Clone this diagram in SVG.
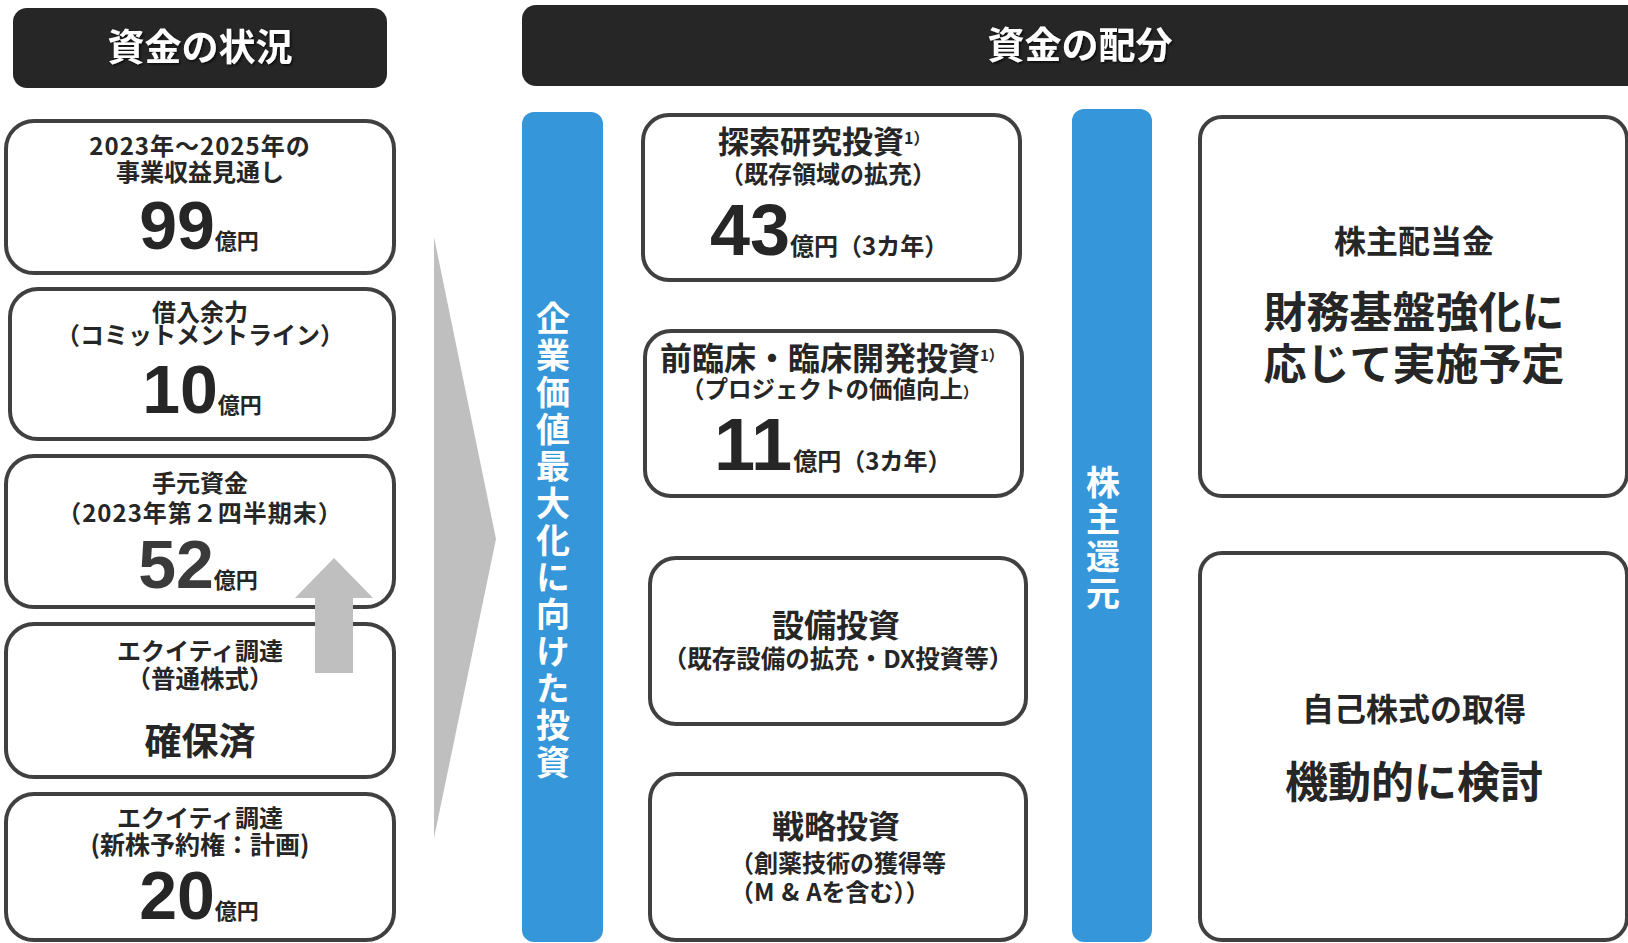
<svg xmlns="http://www.w3.org/2000/svg" width="1628" height="943" viewBox="0 0 1628 943">
<style>
.box{fill:#fff;stroke:#404040;stroke-width:4}
.hdr{fill:#262626}
.blue{fill:#3597d9}
.gray{fill:#bfbfbf}
.t{font-family:"Noto Sans CJK JP","Noto Sans",sans-serif;font-weight:700;fill:#262626;text-anchor:middle}
.s{text-anchor:start}
.num{font-family:"Liberation Sans",Arial,sans-serif;font-weight:700}
.w{fill:#fff}
.v{writing-mode:vertical-rl;text-anchor:start;font-size:34px;letter-spacing:3px}
</style>
<defs>
<filter id="sh" x="-10%" y="-20%" width="120%" height="150%">
<feDropShadow dx="1.5" dy="1.5" stdDeviation="1" flood-color="#000" flood-opacity="0.7"/>
</filter>
</defs>
<rect width="1628" height="943" fill="#fff"/>

<g id="header-left">
<rect class="hdr" x="13" y="8" width="374" height="80" rx="14"/>
<text class="t w" x="200" y="61" font-size="37" filter="url(#sh)">資金の状況</text>
</g>
<g id="header-right">
<rect class="hdr" x="522" y="5" width="1120" height="81" rx="14"/>
<text class="t w" x="1080" y="59" font-size="37" filter="url(#sh)">資金の配分</text>
</g>

<g id="box-revenue">
<rect class="box" x="6" y="121" width="388" height="152" rx="28"/>
<text class="t" x="200" y="155" font-size="24" letter-spacing="1">2023年〜2025年の</text>
<text class="t" x="200" y="181" font-size="24">事業収益見通し</text>
<text class="t" x="199" y="249"><tspan class="num" font-size="68">99</tspan><tspan font-size="22">億円</tspan></text>
</g>
<g id="box-borrowing">
<rect class="box" x="10" y="289" width="384" height="150" rx="28"/>
<text class="t" x="200" y="321" font-size="24">借入余力</text>
<text class="t" x="200" y="344" font-size="24">（コミットメントライン）</text>
<text class="t" x="202" y="413"><tspan class="num" font-size="68">10</tspan><tspan font-size="22">億円</tspan></text>
</g>
<g id="box-cash">
<rect class="box" x="6" y="456" width="388" height="151" rx="28"/>
<text class="t" x="200" y="492" font-size="24">手元資金</text>
<text class="t" x="200" y="522" font-size="24" letter-spacing="1">（2023年第２四半期末）</text>
<text class="t" x="198" y="588"><tspan class="num" font-size="68" fill="#3a3a3a">52</tspan><tspan font-size="22">億円</tspan></text>
</g>
<g id="box-equity-common">
<rect class="box" x="6" y="624" width="388" height="153" rx="28"/>
<text class="t" x="200" y="660" font-size="24">エクイティ調達</text>
<text class="t" x="200" y="688" font-size="24.5">（普通株式）</text>
<text class="t" x="200" y="755" font-size="37">確保済</text>
</g>
<g id="box-equity-warrant">
<rect class="box" x="6" y="794" width="388" height="146" rx="28"/>
<text class="t" x="200" y="827" font-size="24">エクイティ調達</text>
<text class="t" x="200" y="854" font-size="25">(新株予約権：計画)</text>
<text class="t" x="199" y="919"><tspan class="num" font-size="68">20</tspan><tspan font-size="22">億円</tspan></text>
</g>

<g id="connectors">
<polygon class="gray" points="434,237 496,539 434,838"/>
<polygon class="gray" points="334,558 373,598 353,598 353,673 315,673 315,598 295,598"/>
</g>

<g id="bar-invest">
<rect class="blue" x="522" y="112" width="81" height="830" rx="12"/>
<text class="t w v" x="553" y="301">企業価値最大化に向けた投資</text>
</g>

<g id="box-research">
<rect class="box" x="643" y="115" width="377" height="165" rx="26"/>
<text class="t s" x="718" y="153" font-size="31">探索研究投資<tspan font-size="16" dy="-9">1）</tspan></text>
<text class="t" x="828" y="183" font-size="24">（既存領域の拡充）</text>
<text class="t s" x="710" y="255"><tspan class="num" font-size="72">43</tspan><tspan font-size="24">億円（3カ年）</tspan></text>
</g>
<g id="box-clinical">
<rect class="box" x="645" y="331" width="377" height="165" rx="26"/>
<text class="t s" x="660" y="370" font-size="32">前臨床・臨床開発投資<tspan font-size="15" dy="-9">1）</tspan></text>
<text class="t s" x="681" y="398" font-size="23.5">（プロジェクトの価値向上<tspan font-size="15">）</tspan></text>
<text class="t s" x="714" y="470"><tspan class="num" font-size="74">11</tspan><tspan font-size="24" dx="1">億円（3カ年）</tspan></text>
</g>
<g id="box-capex">
<rect class="box" x="650" y="558" width="376" height="166" rx="26"/>
<text class="t" x="836" y="637" font-size="32">設備投資</text>
<text class="t" x="838" y="668" font-size="24.5">（既存設備の拡充・DX投資等）</text>
</g>
<g id="box-strategic">
<rect class="box" x="650" y="774" width="376" height="166" rx="26"/>
<text class="t" x="836" y="838" font-size="32">戦略投資</text>
<text class="t s" x="730" y="872" font-size="24">（創薬技術の獲得等</text>
<text class="t s" x="730" y="901" font-size="24">（<tspan letter-spacing="7">M&amp;</tspan>Aを含む））</text>
</g>

<g id="bar-return">
<rect class="blue" x="1072" y="109" width="80" height="833" rx="12"/>
<text class="t w v" x="1103" y="465">株主還元</text>
</g>

<g id="box-dividend">
<rect class="box" x="1200" y="117" width="427" height="379" rx="22"/>
<text class="t" x="1414" y="253" font-size="32">株主配当金</text>
<text class="t" x="1414" y="328" font-size="43">財務基盤強化に</text>
<text class="t" x="1414" y="380" font-size="43">応じて実施予定</text>
</g>
<g id="box-buyback">
<rect class="box" x="1200" y="553" width="427" height="387" rx="22"/>
<text class="t" x="1414" y="721" font-size="32">自己株式の取得</text>
<text class="t" x="1414" y="798" font-size="43">機動的に検討</text>
</g>
</svg>
